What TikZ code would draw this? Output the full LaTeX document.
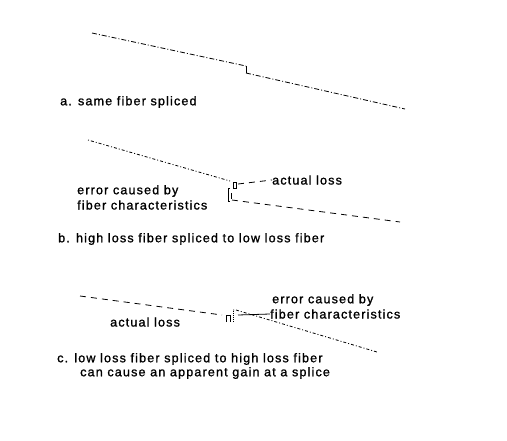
\documentclass[tikz,border=0pt]{standalone}
\usepackage{fontspec}
\setmainfont{Liberation Sans}
\newfontfamily\lblfont[LetterSpace=9,FakeBold=1.2]{Liberation Sans}
\begin{document}
\begin{tikzpicture}[x=1pt,y=-1pt,
  lbl/.style={inner sep=0pt,anchor=west,font=\lblfont\fontsize{12.6}{14}\selectfont},
  dashdot/.style={line width=0.8pt,dash pattern=on 5pt off 2pt on 1pt off 2pt},
  dotdash/.style={line width=0.8pt,dash pattern=on 1pt off 2pt on 3pt off 2pt},
  longdash/.style={line width=0.8pt,dash pattern=on 6pt off 5pt},
  tick/.style={line width=0.8pt}]
\useasboundingbox (0,0) rectangle (507,440);
% ---------- panel a ----------
\coordinate (a1) at (92,33);
\coordinate (a2) at (246,66);
\coordinate (a3) at (246,73);
\coordinate (a4) at (405,109);
\draw[dashdot] (a1) -- (a2);
\draw[tick] (a2) -- (a3);
\draw[dashdot] (a3) -- (a4);
\node[lbl] (la) at (60,102) {a. same fiber spliced};
% ---------- panel b ----------
\coordinate (b1) at (88,140);
\coordinate (b2) at (230,181);
\coordinate (b3) at (232,200);
\coordinate (b4) at (400,222);
\draw[dotdash] (b1) -- (b2);
\draw[longdash] (b3) -- (b4);
\draw[tick] (233,182) -- (236,182) -- (236,188) -- (233,188);
\draw[tick] (233,182) -- (233,188);
\draw[tick] (230,188) -- (228,188) -- (228,201) -- (230,201);
\draw[tick] (231,193) -- (231,199);
\node[lbl] (actb) at (272,180) {actual loss};
\coordinate (bk) at (238,184);
\draw[longdash] (bk) -- (actb.west);
\node[lbl] (errb1) at (77,191) {error caused by};
\node[lbl] (errb2) at (77,205) {fiber characteristics};
\node[lbl] (lb) at (58,239) {b. high loss fiber spliced to low loss fiber};
% ---------- panel c ----------
\coordinate (c1) at (80,296);
\coordinate (c2) at (222,315);
\coordinate (c3) at (233,310);
\coordinate (c4) at (377,352);
\draw[longdash] (c1) -- (c2);
\draw[tick] (226,322) -- (226,315) -- (230,315) -- (230,322);
\draw[line width=0.6pt,dash pattern=on 1pt off 1pt] (233,322) -- (c3);
\draw[dotdash] (c3) -- (236,310) -- (c4);
\node[lbl] (errc1) at (272,300) {error caused by};
\node[lbl] (errc2) at (270,314) {fiber characteristics};
\coordinate (ck) at (238,315);
\draw[tick] (ck) -- (errc2.west);
\node[lbl] (actc) at (110,322) {actual loss};
\node[lbl] (lc1) at (57,359) {c. low loss fiber spliced to high loss fiber};
\node[lbl] (lc2) at (80,373) {can cause an apparent gain at a splice};
\end{tikzpicture}
\end{document}
